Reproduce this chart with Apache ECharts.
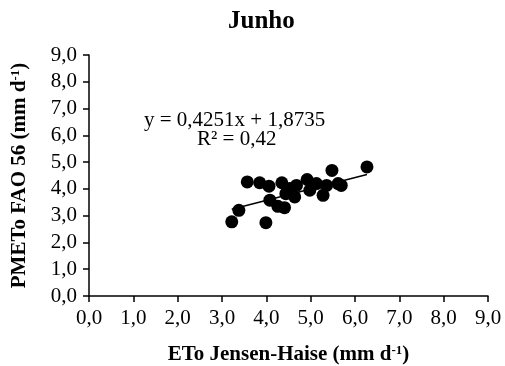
<!DOCTYPE html>
<html><head><meta charset="utf-8">
<script src="https://cdn.jsdelivr.net/npm/echarts@6/dist/echarts.min.js"></script>
<style>html,body{margin:0;padding:0;background:#fff}#c{width:505px;height:366px}</style>
</head><body><div id="c"></div>
<script>
var xTicks = ['0,0','1,0','2,0','3,0','4,0','5,0','6,0','7,0','8,0','9,0'];
var etoJH = [3.22,3.99,3.38,3.57,3.85,4.06,4.35,4.08,4.26,4.41,4.44,4.68,4.64,4.53,4.92,4.98,5.13,5.28,5.36,5.48,5.62,5.69,6.27];
var pmFao = [2.77,2.74,3.20,4.26,4.23,4.10,4.23,3.58,3.35,3.30,3.82,4.13,3.70,4.01,4.35,3.95,4.20,3.76,4.13,4.69,4.20,4.13,4.82];
var slope = 0.4251, intercept = 1.8735;
var eqText = 'y = 0,4251x + 1,8735';
var r2Text = 'R² = 0,42';

var pts = etoJH.map(function(x,i){return [x,pmFao[i]];});
var xmin = Math.min.apply(null, etoJH), xmax = Math.max.apply(null, etoJH);
var trend = [[xmin, slope*xmin+intercept],[xmax, slope*xmax+intercept]];
var ff = '"Liberation Serif","Times New Roman",serif';
var chart = echarts.init(document.getElementById('c'));
var fmt = function(v){return v.toFixed(1).replace('.',',');};
var rich = {b:{fontFamily:ff,fontWeight:'bold',fontSize:21,color:'#000'},s:{fontFamily:ff,fontWeight:'bold',fontSize:13,color:'#000',padding:[0,0,9,0]}};
chart.setOption({
  animation:false,
  title:{text:'Junho',top:4,left:223,textStyle:{fontFamily:ff,fontWeight:'bold',fontSize:25,color:'#000'}},
  grid:{left:89,right:17,top:55,bottom:70,outerBoundsMode:'none',containLabel:false},
  xAxis:{type:'value',min:0,max:9,interval:1,
    axisLine:{show:true,lineStyle:{color:'#000',width:1.5}},
    axisTick:{show:true,length:6,inside:false,lineStyle:{color:'#000',width:1.5}},
    splitLine:{show:false},
    axisLabel:{formatter:function(v){return fmt(v);},fontFamily:ff,fontSize:21,color:'#000',margin:12},
    name:'{b|ETo Jensen-Haise (mm d}{s|-1}{b|)}',nameLocation:'middle',nameGap:48,
    nameTextStyle:{rich:rich}
  },
  yAxis:{type:'value',min:0,max:9,interval:1,
    axisLine:{show:true,lineStyle:{color:'#000',width:1.5}},
    axisTick:{show:true,length:6,lineStyle:{color:'#000',width:1.5}},
    splitLine:{show:false},
    axisLabel:{formatter:function(v){return fmt(v);},fontFamily:ff,fontSize:21,color:'#000',margin:12},
    name:'{b|PMETo FAO 56 (mm d}{s|-1}{b|)}',nameLocation:'middle',nameGap:58,nameRotate:90,
    nameTextStyle:{rich:rich}
  },
  series:[
    {type:'scatter',data:pts,symbolSize:13,itemStyle:{color:'#000',opacity:1},z:3},
    {type:'line',data:trend,symbol:'none',lineStyle:{color:'#000',width:1.5},z:4}
  ],
  graphic:[
    {type:'text',x:144,y:120,style:{text:eqText,font:'21px '+ff,fill:'#000',verticalAlign:'middle'}},
    {type:'text',x:197,y:139,style:{text:r2Text,font:'21px '+ff,fill:'#000',verticalAlign:'middle'}}
  ]
});
</script></body></html>
